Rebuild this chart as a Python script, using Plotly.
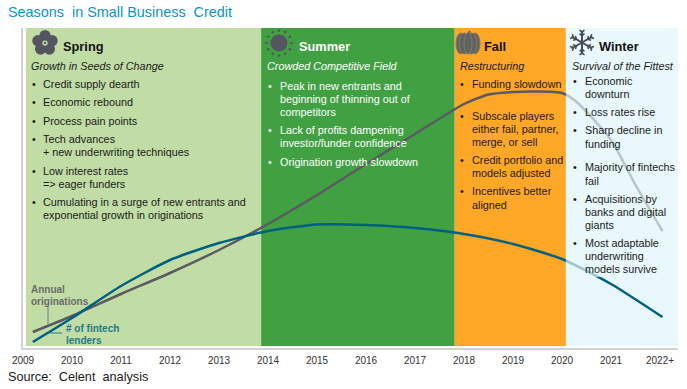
import math
import plotly.graph_objects as go

W, H = 687, 389
FONT = "Liberation Sans"

# ---- data ----
years_orig = [2009.2, 2010, 2011, 2012, 2013, 2014, 2015, 2016, 2017, 2018, 2018.5, 2019, 2019.5, 2020, 2020.3, 2021, 2021.5, 2022.05]
originations = [16, 32, 54, 75, 98, 124, 153, 184, 214, 244, 253.5, 256, 256.5, 255, 246, 208, 163, 117]
years_lenders = [2009.2, 2010, 2011, 2012, 2013, 2014, 2015, 2016, 2017, 2018, 2019, 2020, 2021, 2022.05]
fintech_lenders = [6, 30, 62, 88, 105, 117, 123.5, 123, 120, 114, 104, 89, 64, 31]
tick_years = list(range(2009, 2023))
tick_labels = [str(y) for y in range(2009, 2022)] + ["2022+"]

season_edges = [2009.06, 2013.86, 2017.81, 2020.08, 2022.37]
season_colors = ["#C1DDA5", "#41A142", "#FFA726", "#E8F7FB"]

spring_lines = ["Credit supply dearth", "Economic rebound", "Process pain points", "Tech advances",
                "+ new underwriting techniques", "Low interest rates", "=> eager funders",
                "Cumulating in a surge of new entrants and", "exponential growth in originations"]
summer_lines = ["Peak in new entrants and", "beginning of thinning out of", "competitors",
                "Lack of profits dampening", "investor/funder confidence", "Origination growth slowdown"]
fall_lines = ["Funding slowdown", "Subscale players", "either fail, partner,", "merge, or sell",
              "Credit portfolio and", "models adjusted", "Incentives better", "aligned"]
winter_lines = ["Economic", "downturn", "Loss rates rise", "Sharp decline in", "funding",
                "Majority of fintechs", "fail", "Acquisitions by", "banks and digital", "giants",
                "Most adaptable", "underwriting", "models survive"]

# ---- layout helpers ----
L, R, T, B = 23, 678, 28, 348

annotations, shapes = [], []
def text(x, y, s, size=10.8, color="#1a1a1a", bold=False, italic=False):
    if bold: s = f"<b>{s}</b>"
    if italic: s = f"<i>{s}</i>"
    annotations.append(dict(xref="paper", yref="paper", x=(x - L) / (R - L), y=(B - y) / (B - T),
                            text=s, showarrow=False, xanchor="left", yanchor="middle", align="left",
                            borderpad=0, borderwidth=0, font=dict(family=FONT, size=size, color=color)))

def pxshape(**k):
    for a in ("x0", "x1"):
        if a in k: k[a] = (k[a] - L) / (R - L)
    for a in ("y0", "y1"):
        if a in k: k[a] = (B - k[a]) / (B - T)
    k.update(xref="paper", yref="paper", layer="above")
    shapes.append(k)

def circle(cx, cy, rx, color, ry=None, line=None):
    ry = ry or rx
    pxshape(type="circle", x0=cx - rx, x1=cx + rx, y0=cy - ry, y1=cy + ry, fillcolor=color,
            line=dict(width=1 if line else 0, color=line or color))

def seg(x0, y0, x1, y1, color, w):
    pxshape(type="line", x0=x0, y0=y0, x1=x1, y1=y1, line=dict(color=color, width=w))

# panels (below the lines)
for i, c in enumerate(season_colors):
    shapes.append(dict(type="rect", xref="x", yref="y", x0=season_edges[i], x1=season_edges[i + 1],
                       y0=2, y1=320, fillcolor=c, line=dict(width=0), layer="below"))
# translucent text box over the winter part of the curves
shapes.append(dict(type="rect", xref="x", yref="y", x0=season_edges[3], x1=season_edges[4],
                   y0=71, y1=320, fillcolor="rgba(232,247,251,0.68)", line=dict(width=0), layer="above"))

# text blocks
def block(lines, ys, bullets, tx, bx, color):
    for s, y in zip(lines, ys):
        text(tx, y, s, color=color)
    for y in bullets:
        text(bx, y, "•", color=color)

text(63, 46, "Spring", size=12.8, bold=True, color="#111111")
text(31, 65.5, "Growth in Seeds of Change", italic=True)
block(spring_lines, [84, 102, 121, 139, 152, 171, 184, 202, 215], [84, 102, 121, 139, 171, 202], 43, 32, "#1a1a1a")

text(299, 46, "Summer", size=12.8, bold=True, color="#ffffff")
text(266.5, 65.5, "Crowded Competitive Field", italic=True, color="#ffffff")
block(summer_lines, [85.7, 98.7, 112, 130, 143, 161.5], [85.7, 130, 161.5], 279.5, 268, "#ffffff")

text(484, 46, "Fall", size=12.8, bold=True, color="#111111")
text(460, 65.5, "Restructuring", italic=True)
block(fall_lines, [84, 115.7, 129, 142, 160, 173, 191, 204.5], [84, 115.7, 160, 191], 472, 460.5, "#1a1a1a")

text(599, 46, "Winter", size=12.8, bold=True, color="#111111")
text(572, 65.5, "Survival of the Fittest", italic=True)
block(winter_lines, [80.5, 93.7, 112, 130, 143.5, 167, 180.5, 199, 212, 225, 243, 256, 269],
      [80.5, 112, 130, 167, 199, 243], 585, 572.5, "#1a1a1a")

# curve labels
text(31, 289, "Annual", size=10, bold=True, color="#6b6b6b")
text(31, 301.7, "originations", size=10, bold=True, color="#6b6b6b")
text(66, 328, "# of fintech", size=10, bold=True, color="#1C7A8C")
text(66, 340.5, "lenders", size=10, bold=True, color="#1C7A8C")
seg(48, 307, 48, 324, "#777777", 1)
seg(50, 333, 62, 333, "#1C7A8C", 1)

# title + source
text(8, 12, "Seasons&nbsp; in Small Business&nbsp; Credit", size=14.4, color="#0A94CC")
text(8, 377, "Source:&nbsp; Celent&nbsp; analysis", size=12.7, color="#1a1a1a")

# icons
IC = "#555560"
for k in range(5):
    a = -math.pi / 2 + k * 2 * math.pi / 5
    circle(45 + 7.5 * math.cos(a), 43 + 7.5 * math.sin(a), 5.6, IC)
circle(45, 43, 2.6, "#C1DDA5")
circle(45, 43, 1.2, IC)

circle(279, 43, 8.5, IC)
for k in range(12):
    a = k * 2 * math.pi / 12
    circle(279 + 12.5 * math.cos(a), 43 + 12.5 * math.sin(a), 1.3, IC)

for dx, rx in ((-7, 5), (7, 5), (-3.5, 5.5), (3.5, 5.5), (0, 4)):
    circle(468 + dx, 43.5, rx, "#5f6368", ry=10.5, line="#8a7a50")
seg(468, 34, 470, 31, "#5f6368", 2)

for k in range(6):
    a = -math.pi / 2 + k * math.pi / 3
    cx, cy = 582, 42.5
    c, s = math.cos(a), math.sin(a)
    seg(cx, cy, cx + 12 * c, cy + 12 * s, "#4a4a52", 2)
    for r in (6.5, 10):
        for sgn in (-1, 1):
            b = a + sgn * math.pi / 4
            seg(cx + r * c, cy + r * s, cx + r * c + 3.5 * math.cos(b), cy + r * s + 3.5 * math.sin(b), "#4a4a52", 1.5)

fig = go.Figure()
fig.add_trace(go.Scatter(x=years_orig, y=originations, mode="lines", line=dict(color="#5A5A62", width=2.5, shape="spline", smoothing=0.6),
                         name="Annual originations", showlegend=False, hoverinfo="skip"))
fig.add_trace(go.Scatter(x=years_lenders, y=fintech_lenders, mode="lines", line=dict(color="#00607F", width=2.5, shape="spline", smoothing=0.6),
                         name="# of fintech lenders", showlegend=False, hoverinfo="skip"))

fig.update_layout(
    width=W, height=H, autosize=False, paper_bgcolor="#ffffff", plot_bgcolor="#ffffff",
    margin=dict(l=L, r=W - R, t=T, b=H - B, pad=0),
    shapes=shapes, annotations=annotations, showlegend=False,
    font=dict(family=FONT),
    xaxis=dict(range=[2009, 2009 + (R - L) / 49], tickvals=tick_years, ticktext=tick_labels, tickangle=0,
               tickfont=dict(family=FONT, size=10, color="#333333"), ticks="outside", ticklen=2, tickcolor="#ffffff", showgrid=False, zeroline=False,
               showline=True, linecolor="#D2D2D2", linewidth=2, fixedrange=True),
    yaxis=dict(range=[0, 320], showticklabels=False, ticks="", showgrid=False, zeroline=False,
               showline=True, linecolor="#D2D2D2", linewidth=2, fixedrange=True),
)
fig.write_html("out.html", post_script="document.body.style.margin='0';", config={"displayModeBar": False})
